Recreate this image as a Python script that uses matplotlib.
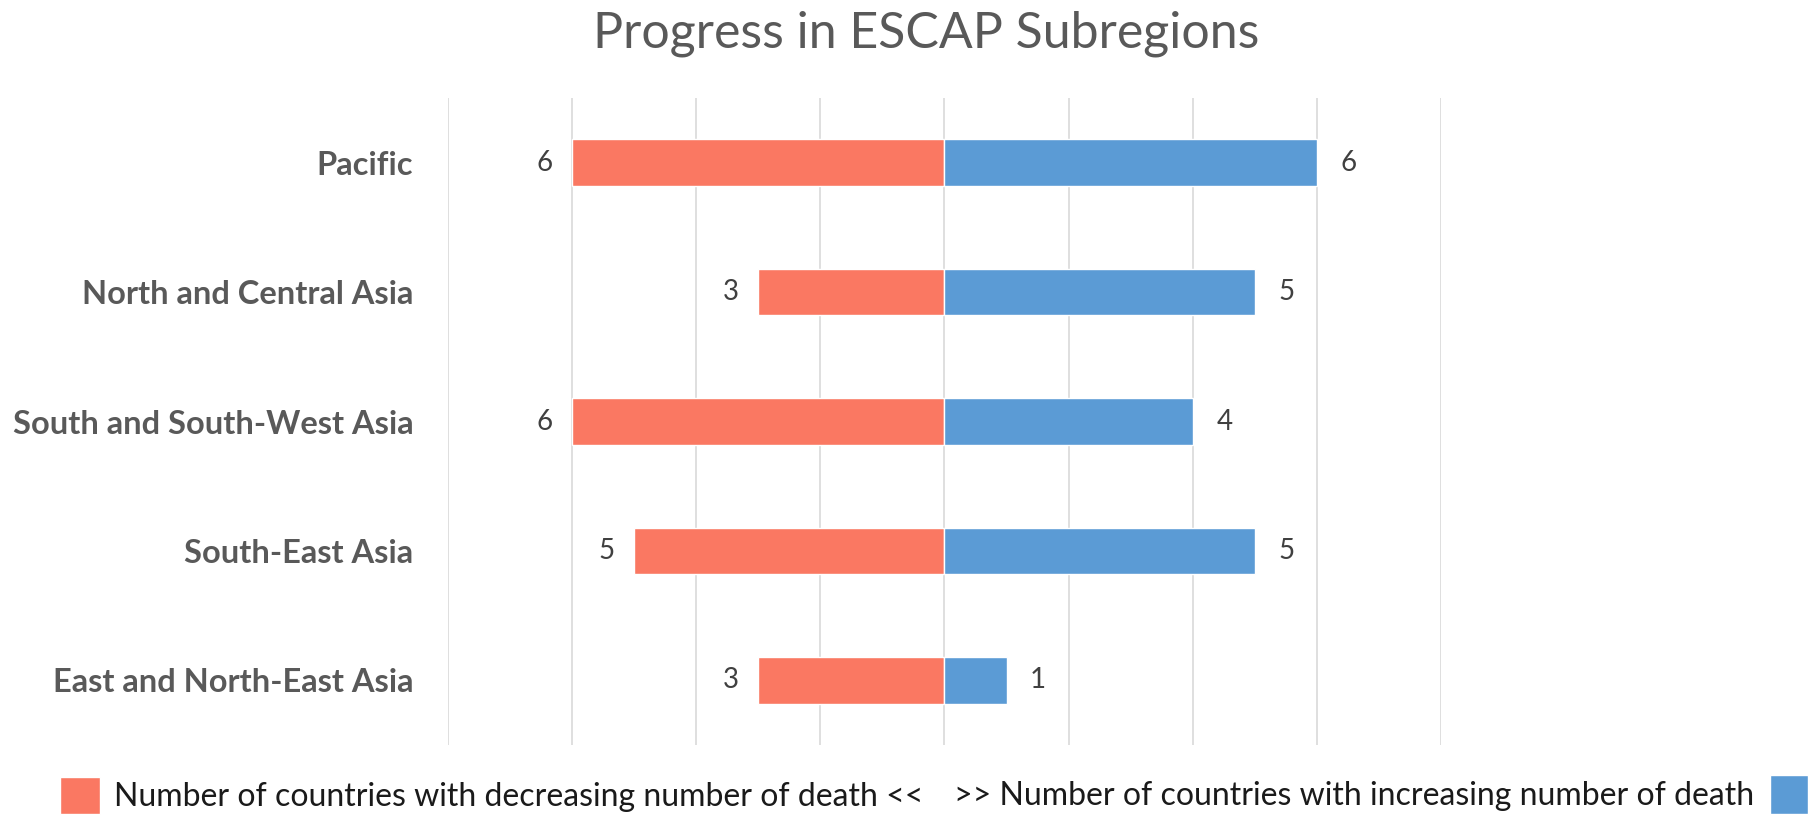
import matplotlib.pyplot as plt

# subregions, listed bottom to top as on the chart
regions = ['East and North-East Asia', 'South-East Asia',
           'South and South-West Asia', 'North and Central Asia', 'Pacific']
decreasing = [3, 5, 6, 3, 6]
increasing = [1, 5, 4, 5, 6]

dec_label = 'Number of countries with decreasing number of death <<'
inc_label = '>> Number of countries with increasing number of death'
title = 'Progress in ESCAP Subregions'

red = '#FA7862'
blue = '#5B9BD5'

plt.rcParams['font.family'] = ['Lato', 'DejaVu Sans']


def main():
    fig = plt.figure(figsize=(18.15, 8.17), dpi=100)
    ax = fig.add_axes([448 / 1815, 0.088, 993 / 1815, 0.792])

    neg = [-v for v in decreasing]
    bars_dec = ax.barh(regions, neg, height=0.36, color=red,
                       edgecolor='white', linewidth=1, label=dec_label, zorder=3)
    bars_inc = ax.barh(regions, increasing, height=0.36, color=blue,
                       edgecolor='white', linewidth=1, label=inc_label, zorder=3)

    ax.bar_label(bars_dec, labels=[str(v) for v in decreasing], padding=14,
                 fontsize=20, color='#404040')
    ax.bar_label(bars_inc, labels=[str(v) for v in increasing], padding=17,
                 fontsize=20, color='#404040')

    ax.set_xlim(-8, 8)
    ax.set_ylim(-0.5, len(regions) - 0.5)
    ax.set_xticks(range(-8, 9, 2))
    ax.set_xticklabels([])
    ax.tick_params(axis='both', length=0)
    ax.tick_params(axis='y', pad=25)
    for t in ax.get_yticklabels():
        t.set_fontsize(23.5)
        t.set_fontweight('bold')
        t.set_color('#595959')
    ax.grid(axis='x', color='#D9D9D9', linewidth=1.2, zorder=0)
    ax.set_axisbelow(True)
    for s in ax.spines.values():
        s.set_visible(False)

    fig.text(926 / 1815, 1 - 34 / 817, title, ha='center', va='center',
             fontsize=36, color='#595959')

    # legend: red marker first, blue marker last
    fig.legend(handles=[bars_dec], loc='lower left',
               bbox_to_anchor=(60 / 1815, 0.004), frameon=False,
               fontsize=23, borderpad=0, borderaxespad=0,
               handlelength=1.25, handleheight=1.4,
               handletextpad=0.45, labelcolor='#1a1a1a')
    fig.legend(handles=[bars_inc], loc='lower right', markerfirst=False,
               bbox_to_anchor=(1808 / 1815, 0.004), frameon=False,
               fontsize=23, borderpad=0, borderaxespad=0,
               handlelength=1.2, handleheight=1.5,
               handletextpad=0.5, labelcolor='#1a1a1a')

    fig.savefig('out.png', dpi=100)


if __name__ == '__main__':
    main()
